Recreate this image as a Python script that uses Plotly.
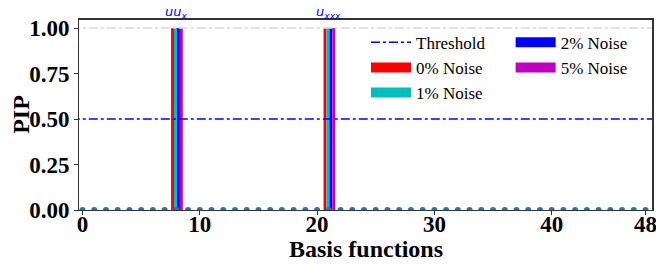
import plotly.graph_objects as go

# ---- data ----
basis_idx = list(range(49))
basis_pip = [0.0] * 49
selected_terms = [8, 21]
term_labels = ["<i>uu</i><sub><i>x</i></sub>", "<i>u</i><sub><i>xxx</i></sub>"]
noise_names = ["0% Noise", "1% Noise", "2% Noise", "5% Noise"]
noise_colors = ["#ff0000", "#00bfbf", "#0000ff", "#bf00bf"]
noise_pip = [[1.0, 1.0], [1.0, 1.0], [1.0, 1.0], [1.0, 1.0]]
threshold = 0.5
x_ticks = [0, 10, 20, 30, 40, 48]
y_ticks = [0.0, 0.25, 0.5, 0.75, 1.0]
y_tick_text = ["0.00", "0.25", "0.50", "0.75", "1.00"]
x_title = "Basis functions"
y_title = "PIP"

serif = "Liberation Serif"
fig = go.Figure()

# reference line at 1.0
fig.add_trace(go.Scatter(x=[-1, 50], y=[1.0, 1.0], mode="lines",
                         line=dict(color="#d9d9d9", width=1.5, dash="dashdot"),
                         showlegend=False, hoverinfo="skip"))

bw = 0.25
for i, (name, col, vals) in enumerate(zip(noise_names, noise_colors, noise_pip)):
    fig.add_trace(go.Bar(x=selected_terms, y=vals, width=bw, offset=-0.45 + i * bw,
                         marker=dict(color=col, line=dict(width=0)),
                         showlegend=False, name=name))

fig.add_trace(go.Scatter(x=[-1, 50], y=[threshold, threshold], mode="lines",
                         line=dict(color="#0000ff", width=1.6, dash="dashdot"),
                         name="Threshold", legend="legend"))

# legend entries for the noise levels
for i, (name, col) in enumerate(zip(noise_names, noise_colors)):
    fig.add_trace(go.Scatter(x=[None], y=[None], mode="lines",
                             line=dict(color=col, width=10), name=name,
                             legend="legend" if i < 2 else "legend2"))

fig.add_trace(go.Scatter(x=basis_idx, y=basis_pip, mode="markers",
                         marker=dict(color="#1f77b4", size=6),
                         showlegend=False))

for xt, lab in zip(selected_terms, term_labels):
    fig.add_annotation(x=xt, y=1, xref="x", yref="paper", yanchor="bottom",
                       text=lab, showarrow=False, yshift=-4,
                       font=dict(family="DejaVu Sans", size=13, color="#0000ff"))

fig.add_annotation(x=0.5, y=0, xref="paper", yref="paper", xanchor="center", yanchor="top",
                   yshift=-24, text="<b>" + x_title + "</b>", showarrow=False,
                   font=dict(family=serif, size=24, color="black"))

# axes frame (top and right edges)
fig.add_shape(type="line", xref="paper", yref="paper", x0=0, y0=1, x1=1, y1=1,
              line=dict(color="#333333", width=2), layer="above")
fig.add_shape(type="line", xref="paper", yref="paper", x0=1, y0=0, x1=1, y1=1,
              line=dict(color="#333333", width=2), layer="above")

legend_common = dict(bgcolor="rgba(0,0,0,0)", font=dict(family=serif, size=17, color="black"),
                     itemwidth=40, tracegroupgap=0, xanchor="left", yanchor="top",
                     traceorder="normal")
fig.update_layout(
    width=656, height=260,
    margin=dict(l=71, r=11, t=11, b=58, autoexpand=False),
    plot_bgcolor="white", paper_bgcolor="white",
    barmode="overlay",
    legend=dict(x=0.50, y=0.97, **legend_common),
    legend2=dict(x=0.752, y=0.97, **legend_common),
    xaxis=dict(range=[-0.3, 48.64], tickvals=x_ticks, showgrid=False, zeroline=False,
               showline=True, mirror=True, linecolor="#333333", linewidth=1,
               ticks="outside", ticklen=4, tickcolor="#333333", automargin=False,
               ticklabelstandoff=-11,
               tickfont=dict(family=serif, size=23, color="black", weight="bold")),
    yaxis=dict(range=[0, 1.05], tickvals=y_ticks, ticktext=y_tick_text,
               showgrid=False, zeroline=False,
               showline=True, mirror=True, linecolor="#333333", linewidth=1,
               ticks="outside", ticklen=4, tickcolor="#333333", automargin=False,
               tickfont=dict(family=serif, size=23, color="black", weight="bold"),
               title=dict(text="<b>" + y_title + "</b>", standoff=4,
                          font=dict(family=serif, size=24, color="black"))),
)

fig.write_html("out.html")
